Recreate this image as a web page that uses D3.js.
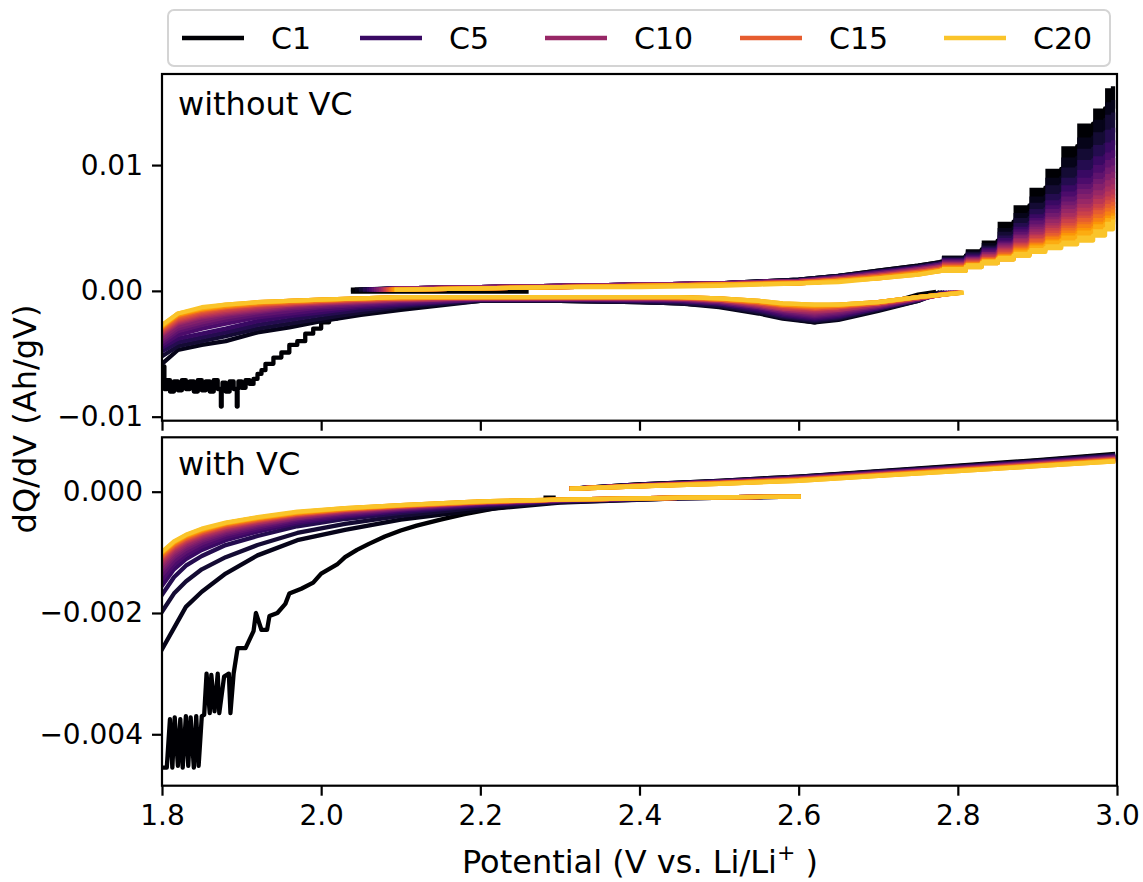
<!DOCTYPE html>
<html><head><meta charset="utf-8">
<script src="https://cdn.jsdelivr.net/npm/d3@7"></script>
<style>body{margin:0;background:#fff}</style>
</head><body>
<svg id="chart" width="1143" height="882"></svg>
<script>
// ---------------- DATA ----------------
const cycleNames = ["C1","C2","C3","C4","C5","C6","C7","C8","C9","C10","C11","C12","C13","C14","C15","C16","C17","C18","C19","C20"];
const legendNames = ["C1","C5","C10","C15","C20"];
const xTicks = [1.8, 2.0, 2.2, 2.4, 2.6, 2.8, 3.0];
const topYTicks = [-0.01, 0.0, 0.01];
const botYTicks = [-0.004, -0.002, 0.0];
const panelTitles = ["without VC", "with VC"];

// ---- top panel (without VC): charge branch ----
const topChargeStartV = [2.040,2.045,2.050,2.055,2.060,2.063,2.066,2.069,2.072,2.075,2.078,2.080,2.082,2.084,2.086,2.088,2.090,2.092,2.094,2.095];
const topChargeV = [2.10,2.20,2.30,2.40,2.50,2.60,2.65,2.70,2.75,2.78,2.81,2.83,2.85,2.87,2.89,2.91,2.93,2.95,2.97,2.985,2.995];
const topChargeVals = [
 [0.0001,0.0002,0.0003,0.0004,0.0005,0.0006,0.0009,0.0012,0.0016,0.0020,0.0023,0.0028,0.0033,0.0040,0.0055,0.0068,0.0082,0.0097,0.0115,0.0133,0.0145,0.0161],
 [0.0001,0.0002,0.0003,0.0004,0.0005,0.0006,0.0009,0.0012,0.0016,0.0020,0.0023,0.0028,0.0032,0.0038,0.0050,0.0062,0.0075,0.0090,0.0106,0.0122,0.0136,0.0150],
 [0.0001,0.0002,0.0003,0.0004,0.0005,0.0006,0.0009,0.0012,0.0015,0.0019,0.0022,0.0027,0.0031,0.0036,0.0047,0.0058,0.0070,0.0084,0.0098,0.0113,0.0126,0.0140],
 [0.0001,0.0002,0.0003,0.0004,0.0005,0.0006,0.0008,0.0011,0.0015,0.0019,0.0022,0.0026,0.0030,0.0035,0.0044,0.0054,0.0065,0.0077,0.0090,0.0104,0.0116,0.0128],
 [0.0001,0.0002,0.0003,0.0004,0.0005,0.0006,0.0008,0.0011,0.0015,0.0018,0.0021,0.0026,0.0029,0.0034,0.0042,0.0051,0.0061,0.0072,0.0084,0.0096,0.0107,0.0118],
 [0.0001,0.0002,0.0003,0.0004,0.0005,0.0006,0.0008,0.0011,0.0014,0.0018,0.0021,0.0025,0.0028,0.0033,0.0040,0.0049,0.0058,0.0068,0.0079,0.0090,0.0100,0.0110],
 [0.0001,0.0002,0.0003,0.0004,0.0005,0.0006,0.0008,0.0011,0.0014,0.0018,0.0021,0.0025,0.0028,0.0032,0.0039,0.0047,0.0056,0.0065,0.0075,0.0085,0.0094,0.0104],
 [0.0001,0.0002,0.0003,0.0004,0.0005,0.0006,0.0008,0.0010,0.0014,0.0017,0.0020,0.0024,0.0027,0.0031,0.0038,0.0045,0.0053,0.0062,0.0071,0.0081,0.0089,0.0098],
 [0.0001,0.0002,0.0003,0.0004,0.0005,0.0006,0.0008,0.0010,0.0013,0.0017,0.0020,0.0024,0.0027,0.0031,0.0037,0.0044,0.0051,0.0059,0.0068,0.0077,0.0085,0.0093],
 [0.0001,0.0002,0.0003,0.0004,0.0005,0.0006,0.0007,0.0010,0.0013,0.0017,0.0019,0.0023,0.0026,0.0030,0.0036,0.0042,0.0049,0.0057,0.0065,0.0073,0.0080,0.0088],
 [0.0001,0.0001,0.0002,0.0003,0.0004,0.0005,0.0007,0.0010,0.0013,0.0016,0.0019,0.0023,0.0026,0.0029,0.0035,0.0041,0.0047,0.0054,0.0062,0.0069,0.0076,0.0083],
 [0.0001,0.0001,0.0002,0.0003,0.0004,0.0005,0.0007,0.0009,0.0012,0.0016,0.0019,0.0022,0.0025,0.0029,0.0034,0.0039,0.0045,0.0052,0.0059,0.0066,0.0073,0.0079],
 [0.0001,0.0001,0.0002,0.0003,0.0004,0.0005,0.0007,0.0009,0.0012,0.0015,0.0018,0.0022,0.0025,0.0028,0.0033,0.0038,0.0044,0.0050,0.0057,0.0063,0.0069,0.0075],
 [0.0001,0.0001,0.0002,0.0003,0.0004,0.0005,0.0007,0.0009,0.0012,0.0015,0.0018,0.0021,0.0024,0.0027,0.0032,0.0037,0.0042,0.0048,0.0054,0.0060,0.0066,0.0072],
 [0.0001,0.0001,0.0002,0.0003,0.0004,0.0005,0.0007,0.0009,0.0011,0.0015,0.0017,0.0021,0.0024,0.0027,0.0031,0.0036,0.0041,0.0046,0.0052,0.0058,0.0064,0.0069],
 [0.0001,0.0001,0.0002,0.0003,0.0004,0.0005,0.0006,0.0008,0.0011,0.0014,0.0017,0.0020,0.0023,0.0026,0.0030,0.0035,0.0039,0.0044,0.0050,0.0055,0.0061,0.0066],
 [0.0001,0.0001,0.0002,0.0003,0.0004,0.0005,0.0006,0.0008,0.0011,0.0014,0.0017,0.0020,0.0023,0.0026,0.0029,0.0034,0.0038,0.0043,0.0048,0.0053,0.0058,0.0063],
 [0.0001,0.0001,0.0002,0.0003,0.0004,0.0005,0.0006,0.0008,0.0010,0.0014,0.0016,0.0020,0.0022,0.0025,0.0029,0.0033,0.0037,0.0041,0.0046,0.0050,0.0055,0.0060],
 [0.0001,0.0001,0.0002,0.0003,0.0004,0.0005,0.0006,0.0008,0.0010,0.0013,0.0016,0.0019,0.0022,0.0025,0.0028,0.0032,0.0036,0.0040,0.0044,0.0048,0.0053,0.0058],
 [0.0001,0.0001,0.0002,0.0003,0.0003,0.0004,0.0006,0.0007,0.0010,0.0013,0.0016,0.0019,0.0022,0.0025,0.0028,0.0031,0.0034,0.0037,0.0040,0.0044,0.0049,0.0055]
];

// ---- top panel: discharge branch (C2..C20 on a shared grid, first value at the cycle's start potential) ----
const topDisStartV = [2.770,2.775,2.778,2.781,2.784,2.787,2.789,2.791,2.793,2.795,2.796,2.797,2.798,2.799,2.800,2.801,2.802,2.803,2.804,2.805];
const topDisV = [2.75,2.70,2.65,2.62,2.58,2.55,2.50,2.45,2.40,2.30,2.20,2.10,2.05,2.00,1.96,1.92,1.88,1.85,1.82,1.80];
const topDisVals = [
 null,
 [-0.00015,-0.0008,-0.0016,-0.0023,-0.0025,-0.0022,-0.0018,-0.0013,-0.0010,-0.0009,-0.0008,-0.0008,-0.0015,-0.0019,-0.0024,-0.0029,-0.0033,-0.0040,-0.0043,-0.0047,-0.0058],
 [-0.00015,-0.0008,-0.0015,-0.0022,-0.0024,-0.0021,-0.0017,-0.0012,-0.0010,-0.0009,-0.0008,-0.0008,-0.0013,-0.0017,-0.0022,-0.0026,-0.0030,-0.0036,-0.0040,-0.0044,-0.0052],
 [-0.00015,-0.0007,-0.0014,-0.0021,-0.0023,-0.0020,-0.0016,-0.0011,-0.0009,-0.0008,-0.0007,-0.0007,-0.0012,-0.0015,-0.0019,-0.0023,-0.0027,-0.0033,-0.0037,-0.0041,-0.0048],
 [-0.00015,-0.0007,-0.0014,-0.0020,-0.0022,-0.0019,-0.0015,-0.0010,-0.0008,-0.0008,-0.0007,-0.0007,-0.0011,-0.0013,-0.0017,-0.0020,-0.0024,-0.0030,-0.0034,-0.0038,-0.0045],
 [-0.00015,-0.0007,-0.0013,-0.0019,-0.0021,-0.0018,-0.0014,-0.0010,-0.0008,-0.0007,-0.0007,-0.0007,-0.0010,-0.0012,-0.0015,-0.0018,-0.0021,-0.0026,-0.0030,-0.0035,-0.0043],
 [-0.00015,-0.0007,-0.0013,-0.0018,-0.0020,-0.0017,-0.0013,-0.0009,-0.0007,-0.0007,-0.0007,-0.0007,-0.0009,-0.0011,-0.0013,-0.0016,-0.0019,-0.0023,-0.0027,-0.0032,-0.0041],
 [-0.00015,-0.0006,-0.0012,-0.0017,-0.0019,-0.0016,-0.0013,-0.0009,-0.0007,-0.0007,-0.0006,-0.0006,-0.0008,-0.0010,-0.0012,-0.0014,-0.0017,-0.0021,-0.0025,-0.0030,-0.0039],
 [-0.00015,-0.0006,-0.0012,-0.0016,-0.0018,-0.0015,-0.0012,-0.0008,-0.0007,-0.0006,-0.0006,-0.0006,-0.0008,-0.0009,-0.0011,-0.0013,-0.0016,-0.0019,-0.0023,-0.0028,-0.0037],
 [-0.00015,-0.0006,-0.0011,-0.0015,-0.0017,-0.0015,-0.0012,-0.0008,-0.0006,-0.0006,-0.0006,-0.0006,-0.0007,-0.0009,-0.0010,-0.0012,-0.0015,-0.0018,-0.0021,-0.0026,-0.0035],
 [-0.00015,-0.0006,-0.0011,-0.0015,-0.0016,-0.0014,-0.0011,-0.0008,-0.0006,-0.0006,-0.0006,-0.0006,-0.0007,-0.0008,-0.0010,-0.0011,-0.0014,-0.0017,-0.0020,-0.0025,-0.0034],
 [-0.00015,-0.0006,-0.0010,-0.0014,-0.0015,-0.0014,-0.0011,-0.0007,-0.0006,-0.0006,-0.0006,-0.0006,-0.0007,-0.0008,-0.0009,-0.0011,-0.0013,-0.0016,-0.0019,-0.0024,-0.0033],
 [-0.00015,-0.0006,-0.0010,-0.0013,-0.0014,-0.0013,-0.0010,-0.0007,-0.0006,-0.0005,-0.0005,-0.0005,-0.0006,-0.0007,-0.0009,-0.0010,-0.0012,-0.0015,-0.0018,-0.0023,-0.0032],
 [-0.00015,-0.0005,-0.0010,-0.0013,-0.0014,-0.0012,-0.0010,-0.0007,-0.0006,-0.0005,-0.0005,-0.0005,-0.0006,-0.0007,-0.0008,-0.0010,-0.0011,-0.0014,-0.0017,-0.0022,-0.0031],
 [-0.00015,-0.0005,-0.0010,-0.0012,-0.0013,-0.0012,-0.0009,-0.0007,-0.0005,-0.0005,-0.0005,-0.0005,-0.0006,-0.0007,-0.0008,-0.0009,-0.0011,-0.0013,-0.0016,-0.0021,-0.0030],
 [-0.00015,-0.0005,-0.0009,-0.0012,-0.0013,-0.0011,-0.0009,-0.0007,-0.0005,-0.0005,-0.0005,-0.0005,-0.0006,-0.0006,-0.0008,-0.0009,-0.0010,-0.0013,-0.0015,-0.0020,-0.0029],
 [-0.00015,-0.0005,-0.0009,-0.0012,-0.0012,-0.0011,-0.0009,-0.0006,-0.0005,-0.0005,-0.0005,-0.0005,-0.0005,-0.0006,-0.0007,-0.0008,-0.0010,-0.0012,-0.0015,-0.0019,-0.0029],
 [-0.00015,-0.0005,-0.0009,-0.0011,-0.0012,-0.0011,-0.0008,-0.0006,-0.0005,-0.0005,-0.0005,-0.0005,-0.0005,-0.0006,-0.0007,-0.0008,-0.0009,-0.0012,-0.0014,-0.0019,-0.0028],
 [-0.00015,-0.0005,-0.0009,-0.0011,-0.0011,-0.0010,-0.0008,-0.0006,-0.0005,-0.0005,-0.0005,-0.0005,-0.0005,-0.0006,-0.0007,-0.0008,-0.0009,-0.0011,-0.0014,-0.0018,-0.0028],
 [-0.00015,-0.0005,-0.0009,-0.0011,-0.0011,-0.0010,-0.0008,-0.0006,-0.0005,-0.0005,-0.0005,-0.0005,-0.0005,-0.0006,-0.0007,-0.0008,-0.0009,-0.0011,-0.0013,-0.0018,-0.0027]
];
// C1 discharge in the top panel (noisy, own grid)
const topC1DisV = [2.770,2.750,2.700,2.650,2.620,2.580,2.550,2.500,2.450,2.400,
 2.300,2.200,2.130,2.100,2.080,2.060,2.050,2.040,2.030,2.020,
 2.010,2.000,1.990,1.980,1.970,1.960,1.950,1.940,1.930,1.925,
 1.920,1.915,1.910,1.905,1.900,1.896,1.895,1.894,1.890,1.885,
 1.880,1.876,1.875,1.874,1.870,1.865,1.860,1.855,1.850,1.845,
 1.840,1.835,1.830,1.825,1.820,1.815,1.810,1.806,1.803,1.800];
const topC1DisVals = [-0.0001,-0.0003,-0.0012,-0.0020,-0.0025,-0.0021,-0.0017,-0.0012,-0.0010,-0.0009,
 -0.0008,-0.0008,-0.0009,-0.0010,-0.0012,-0.0013,-0.0015,-0.0017,-0.0019,-0.0022,
 -0.0025,-0.0030,-0.0034,-0.0040,-0.0043,-0.0049,-0.0053,-0.0058,-0.0063,-0.0066,
 -0.0070,-0.0074,-0.0071,-0.0077,-0.0072,-0.0078,-0.0092,-0.0078,-0.0072,-0.0080,
 -0.0073,-0.0079,-0.0092,-0.0078,-0.0071,-0.0080,-0.0072,-0.0079,-0.0071,-0.0080,
 -0.0072,-0.0078,-0.0071,-0.0079,-0.0072,-0.0080,-0.0071,-0.0078,-0.0060,-0.0069];
// short initial C1 segment near 0
const topC1RestV = [2.040, 2.258];
const topC1RestVals = [-0.00006, -0.00006];

// ---- bottom panel (with VC): charge branch ----
const botChargeV = [2.315,2.40,2.50,2.60,2.70,2.80,2.90,2.995];
const botChargeVals = [
 [0.00005,0.00012,0.00018,0.00025,0.00034,0.00043,0.00052,0.00062],
 [0.00005,0.00012,0.00018,0.00025,0.00033,0.00042,0.00051,0.00061],
 [0.00005,0.00012,0.00017,0.00024,0.00033,0.00041,0.00050,0.00060],
 [0.00005,0.00011,0.00017,0.00024,0.00032,0.00041,0.00050,0.00059],
 [0.00005,0.00011,0.00017,0.00023,0.00032,0.00040,0.00049,0.00058],
 [0.00005,0.00011,0.00016,0.00023,0.00031,0.00040,0.00048,0.00057],
 [0.00005,0.00011,0.00016,0.00022,0.00031,0.00039,0.00048,0.00057],
 [0.00005,0.00011,0.00016,0.00022,0.00030,0.00039,0.00047,0.00056],
 [0.00005,0.00010,0.00015,0.00022,0.00030,0.00038,0.00047,0.00055],
 [0.00005,0.00010,0.00015,0.00021,0.00029,0.00038,0.00046,0.00055],
 [0.00005,0.00010,0.00015,0.00021,0.00029,0.00037,0.00046,0.00054],
 [0.00005,0.00010,0.00015,0.00021,0.00029,0.00037,0.00045,0.00054],
 [0.00005,0.00010,0.00014,0.00020,0.00028,0.00036,0.00045,0.00053],
 [0.00005,0.00010,0.00014,0.00020,0.00028,0.00036,0.00044,0.00053],
 [0.00005,0.00010,0.00014,0.00020,0.00028,0.00036,0.00044,0.00052],
 [0.00005,0.00009,0.00014,0.00019,0.00027,0.00035,0.00043,0.00052],
 [0.00005,0.00009,0.00014,0.00019,0.00027,0.00035,0.00043,0.00051],
 [0.00005,0.00009,0.00013,0.00019,0.00027,0.00035,0.00043,0.00051],
 [0.00005,0.00009,0.00013,0.00018,0.00026,0.00034,0.00042,0.00050],
 [0.00005,0.00009,0.00013,0.00018,0.00026,0.00034,0.00042,0.00050]
];
// ---- bottom panel: discharge branch ----
const botDisV = [2.60,2.45,2.30,2.20,2.10,2.03,1.97,1.92,1.88,1.85,1.83,1.815,1.80];
const botDisVals = [
 null,
 [-0.00008,-0.00011,-0.00018,-0.00030,-0.00046,-0.00063,-0.00080,-0.00105,-0.00135,-0.00165,-0.00190,-0.00225,-0.00260],
 [-0.00008,-0.00011,-0.00017,-0.00026,-0.00040,-0.00053,-0.00068,-0.00088,-0.00108,-0.00128,-0.00148,-0.00168,-0.00198],
 [-0.00008,-0.00011,-0.00016,-0.00023,-0.00035,-0.00045,-0.00057,-0.00073,-0.00088,-0.00106,-0.00122,-0.00141,-0.00170],
 [-0.00008,-0.00010,-0.00015,-0.00022,-0.00032,-0.00041,-0.00052,-0.00066,-0.00080,-0.00096,-0.00111,-0.00128,-0.00155],
 [-0.00008,-0.00010,-0.00015,-0.00021,-0.00030,-0.00039,-0.00049,-0.00062,-0.00075,-0.00090,-0.00104,-0.00120,-0.00145],
 [-0.00008,-0.00010,-0.00014,-0.00020,-0.00029,-0.00037,-0.00046,-0.00059,-0.00071,-0.00085,-0.00099,-0.00114,-0.00137],
 [-0.00008,-0.00010,-0.00014,-0.00019,-0.00028,-0.00035,-0.00044,-0.00056,-0.00068,-0.00081,-0.00094,-0.00108,-0.00130],
 [-0.00008,-0.00010,-0.00014,-0.00019,-0.00027,-0.00034,-0.00043,-0.00054,-0.00065,-0.00078,-0.00090,-0.00104,-0.00125],
 [-0.00008,-0.00010,-0.00014,-0.00018,-0.00026,-0.00033,-0.00041,-0.00052,-0.00063,-0.00075,-0.00087,-0.00100,-0.00120],
 [-0.00008,-0.00010,-0.00013,-0.00018,-0.00025,-0.00032,-0.00040,-0.00051,-0.00061,-0.00073,-0.00084,-0.00097,-0.00116],
 [-0.00008,-0.00010,-0.00013,-0.00018,-0.00025,-0.00031,-0.00039,-0.00049,-0.00059,-0.00071,-0.00082,-0.00094,-0.00113],
 [-0.00008,-0.00010,-0.00013,-0.00017,-0.00024,-0.00030,-0.00038,-0.00048,-0.00058,-0.00069,-0.00080,-0.00092,-0.00110],
 [-0.00008,-0.00010,-0.00013,-0.00017,-0.00024,-0.00030,-0.00037,-0.00047,-0.00056,-0.00068,-0.00078,-0.00090,-0.00108],
 [-0.00008,-0.00010,-0.00013,-0.00017,-0.00023,-0.00029,-0.00036,-0.00046,-0.00055,-0.00066,-0.00077,-0.00088,-0.00106],
 [-0.00008,-0.00010,-0.00013,-0.00017,-0.00023,-0.00029,-0.00036,-0.00045,-0.00054,-0.00065,-0.00075,-0.00087,-0.00104],
 [-0.00008,-0.00010,-0.00013,-0.00017,-0.00023,-0.00028,-0.00035,-0.00044,-0.00053,-0.00064,-0.00074,-0.00085,-0.00102],
 [-0.00008,-0.00010,-0.00013,-0.00016,-0.00022,-0.00028,-0.00034,-0.00043,-0.00052,-0.00063,-0.00073,-0.00084,-0.00101],
 [-0.00008,-0.00010,-0.00013,-0.00016,-0.00022,-0.00027,-0.00034,-0.00043,-0.00052,-0.00062,-0.00072,-0.00083,-0.00100],
 [-0.00008,-0.00010,-0.00013,-0.00016,-0.00022,-0.00027,-0.00033,-0.00042,-0.00051,-0.00061,-0.00071,-0.00082,-0.00099]
];
// C1 discharge in the bottom panel (noisy, own grid)
const botC1DisV = [2.600,2.450,2.350,2.300,2.260,2.220,2.180,2.150,2.120,2.100,
 2.080,2.060,2.045,2.030,2.020,2.000,1.990,1.975,1.960,1.955,
 1.945,1.935,1.932,1.925,1.918,1.915,1.905,1.895,1.890,1.886,
 1.884,1.878,1.872,1.870,1.866,1.862,1.860,1.856,1.853,1.850,
 1.846,1.843,1.840,1.836,1.833,1.830,1.826,1.823,1.820,1.816,
 1.813,1.810,1.806,1.803,1.800];
const botC1DisVals = [-0.00008,-0.00010,-0.00013,-0.00015,-0.00020,-0.00027,-0.00037,-0.00046,-0.00056,-0.00064,
 -0.00074,-0.00086,-0.00096,-0.00108,-0.00120,-0.00135,-0.00150,-0.00160,-0.00168,-0.00185,
 -0.00200,-0.00205,-0.00228,-0.00228,-0.00200,-0.00230,-0.00258,-0.00258,-0.00300,-0.00365,
 -0.00300,-0.00305,-0.00365,-0.00300,-0.00362,-0.00302,-0.00365,-0.00300,-0.00368,-0.00370,
 -0.00452,-0.00370,-0.00455,-0.00372,-0.00452,-0.00370,-0.00455,-0.00375,-0.00452,-0.00372,
 -0.00455,-0.00375,-0.00455,-0.00455,-0.00455];
const botC1RestV = [2.282, 2.292];
const botC1RestVals = [-0.00010, -0.00010];

// ---------------- LAYOUT ----------------
const FONT = "DejaVu Sans";
const tickFS = 28, labelFS = 32, legendFS = 30;
const lineW = 4.3;
const STEP_FROM = 2.78;      // charge branch is drawn stepped above this potential
const C1_STEP_BELOW = 2.10;  // C1 discharge is drawn stepped below this potential
const svg = d3.select("#chart").style("font-family", FONT);
svg.append("rect").attr("width",1143).attr("height",882).attr("fill","#fff");

const x = d3.scaleLinear().domain([1.8, 3.0]).range([162, 1117]);
const panels = [
  {y: d3.scaleLinear().domain([-0.01032, 0.01724]).range([420.7, 74]), ticks: topYTicks, fmt: d3.format(".2f"), top: 74, bottom: 420.7, xlabels: false},
  {y: d3.scaleLinear().domain([-0.004848, 0.000897]).range([785.7, 437.3]), ticks: botYTicks, fmt: d3.format(".3f"), top: 437.3, bottom: 785.7, xlabels: true}
];
const color = i => d3.interpolateInferno(i / 19 * 0.86);

panels.forEach((p, pi) => {
  const clipId = "clip" + pi;
  svg.append("clipPath").attr("id", clipId).append("rect")
    .attr("x", 162).attr("y", p.top).attr("width", 1117 - 162).attr("height", p.bottom - p.top);
  p.g = svg.append("g").attr("clip-path", `url(#${clipId})`);
});

function pathLine(g, pts, y, col, curve) {
  g.append("path").datum(pts)
    .attr("d", d3.line().x(d => x(d[0])).y(d => y(d[1])).curve(curve || d3.curveLinear))
    .attr("fill", "none").attr("stroke", col).attr("stroke-width", lineW)
    .attr("stroke-linejoin", "round").attr("stroke-linecap", "square");
}
const zip = (vs, vals) => vs.map((v, k) => [v, vals[k]]);

const pT = panels[0], pB = panels[1];
// top panel
cycleNames.forEach((name, i) => {
  const col = color(i);
  if (i === 0) pathLine(pT.g, zip(topC1RestV, topC1RestVals), pT.y, col);
  const ch = zip([topChargeStartV[i]].concat(topChargeV), topChargeVals[i]);
  const low = ch.filter(d => d[0] <= STEP_FROM);
  const high = ch.filter(d => d[0] >= STEP_FROM);
  pathLine(pT.g, low, pT.y, col);
  // noisy quantised signal fills each step between successive levels
  const blocks = high.map((d, k) => [d[0], d[1], (high[k + 1] || d)[1]]);
  pT.g.append("path").datum(blocks)
    .attr("d", d3.area().x(d => x(d[0])).y0(d => pT.y(d[1])).y1(d => pT.y(d[2])).curve(d3.curveStepAfter))
    .attr("fill", col).attr("stroke", "none");
  pathLine(pT.g, high, pT.y, col, d3.curveStepAfter);
  if (i === 0) {
    const dis = zip(topC1DisV, topC1DisVals);
    pathLine(pT.g, dis.filter(d => d[0] >= C1_STEP_BELOW), pT.y, col);
    pathLine(pT.g, dis.filter(d => d[0] <= C1_STEP_BELOW), pT.y, col, d3.curveStepAfter);
  } else {
    pathLine(pT.g, zip([topDisStartV[i]].concat(topDisV), topDisVals[i]), pT.y, col);
  }
});
// bottom panel
cycleNames.forEach((name, i) => {
  const col = color(i);
  if (i === 0) pathLine(pB.g, zip(botC1RestV, botC1RestVals), pB.y, col);
  pathLine(pB.g, zip(botChargeV, botChargeVals[i]), pB.y, col);
  if (i === 0) pathLine(pB.g, zip(botC1DisV, botC1DisVals), pB.y, col);
  else pathLine(pB.g, zip(botDisV, botDisVals[i]), pB.y, col);
});

// axes
panels.forEach((p, pi) => {
  const xa = d3.axisBottom(x).tickValues(xTicks).tickSize(10).tickPadding(9)
    .tickFormat(p.xlabels ? d3.format(".1f") : () => "");
  const gx = svg.append("g").attr("transform", `translate(0,${p.bottom})`).call(xa);
  const ya = d3.axisLeft(p.y).tickValues(p.ticks).tickSize(10).tickPadding(9).tickFormat(p.fmt);
  const gy = svg.append("g").attr("transform", "translate(162,0)").call(ya);
  [gx, gy].forEach(g => {
    g.select(".domain").remove();
    g.selectAll("line").attr("stroke", "#000").attr("stroke-width", 2.2);
    g.selectAll("text").attr("font-family", FONT).attr("font-size", tickFS).attr("fill", "#000");
  });
  svg.append("rect").attr("x", 162).attr("y", p.top).attr("width", 1117 - 162).attr("height", p.bottom - p.top)
    .attr("fill", "none").attr("stroke", "#000").attr("stroke-width", 2.2);
  svg.append("text").attr("x", 178).attr("y", pi === 0 ? 115 : 475)
    .attr("font-size", labelFS).attr("fill", "#000").text(panelTitles[pi]);
});

// axis labels
const xl = svg.append("text").attr("x", 640).attr("y", 873).attr("text-anchor", "middle")
  .attr("font-size", labelFS).attr("fill", "#000");
xl.append("tspan").text("Potential (V vs. Li/Li");
xl.append("tspan").attr("dy", -13).attr("font-size", 22).text("+");
xl.append("tspan").attr("dy", 13).text(" )");
svg.append("text").attr("transform", "translate(36,419) rotate(-90)").attr("text-anchor", "middle")
  .attr("font-size", labelFS).attr("fill", "#000").text("dQ/dV (Ah/gV)");

// legend
svg.append("rect").attr("x", 168).attr("y", 10).attr("width", 942).attr("height", 56).attr("rx", 6)
  .attr("fill", "#fff").attr("stroke", "#d4d4d4").attr("stroke-width", 2);
const legX = [182, 360, 545, 740, 944];
legendNames.forEach((n, k) => {
  const idx = cycleNames.indexOf(n);
  svg.append("line").attr("x1", legX[k]).attr("x2", legX[k] + 62).attr("y1", 38).attr("y2", 38)
    .attr("stroke", color(idx)).attr("stroke-width", lineW);
  svg.append("text").attr("x", legX[k] + 89).attr("y", 49).attr("font-size", legendFS).attr("fill", "#000").text(n);
});
</script>
</body></html>
